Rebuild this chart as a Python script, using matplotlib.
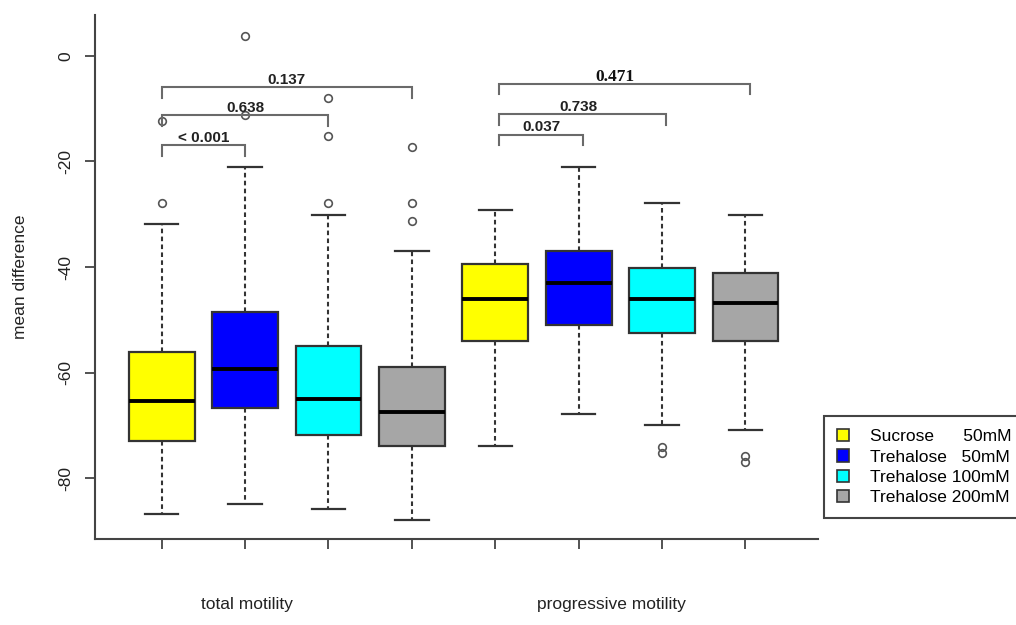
import matplotlib
matplotlib.use("Agg")
import matplotlib.pyplot as plt
from matplotlib.patches import Patch

plt.rcParams['font.family'] = ['Liberation Sans', 'DejaVu Sans']

# Box statistics (mean difference)
groups = ['total motility', 'progressive motility']
treatments = ['Sucrose      50mM', 'Trehalose   50mM', 'Trehalose 100mM', 'Trehalose 200mM']
medians = [-65.4, -59.3, -65.0, -67.5, -46.1, -43.0, -46.1, -46.9]
q1 = [-72.9, -66.8, -71.8, -73.9, -54.0, -51.0, -52.6, -54.0]
q3 = [-56.1, -48.6, -55.0, -59.0, -39.4, -36.9, -40.1, -41.2]
whislo = [-86.9, -85.0, -85.9, -87.9, -73.9, -67.9, -70.0, -70.9]
whishi = [-31.8, -21.1, -30.1, -36.9, -29.1, -21.1, -27.9, -30.1]
fliers = [[-27.9, -12.3], [3.85, -11.2], [-8.0, -15.1, -27.9], [-17.2, -27.9, -31.2],
          [], [], [-74.1, -75.2], [-75.9, -77.0]]

# pairwise comparisons: (box a, box b, bar height, p-value label)
comparisons = [(1, 2, -16.9, '< 0.001'), (1, 3, -11.2, '0.638'), (1, 4, -5.9, '0.137'),
               (5, 6, -14.9, '0.037'), (5, 7, -11.0, '0.738'), (5, 8, -5.3, '0.471')]

colors = ['#FFFF00', '#0000FF', '#00FFFF', '#A6A6A6']
positions = list(range(1, 9))

fig = plt.figure(figsize=(10.16, 6.25), dpi=100)
ax = fig.add_axes([95 / 1016, 1 - 539 / 625, (818 - 95) / 1016, (539 - 15) / 625])

stats = []
for i in range(8):
    stats.append(dict(med=medians[i], q1=q1[i], q3=q3[i], whislo=whislo[i],
                      whishi=whishi[i], fliers=fliers[i]))

bp = ax.bxp(stats, positions=positions, widths=0.79, patch_artist=True,
            boxprops=dict(edgecolor='#333333', linewidth=1.6),
            medianprops=dict(color='black', linewidth=2.8),
            whiskerprops=dict(color='#333333', linewidth=1.5, linestyle=(0, (2.2, 1.6))),
            capprops=dict(color='#333333', linewidth=1.6),
            capwidths=0.4,
            flierprops=dict(marker='o', markersize=5.5, markerfacecolor='none',
                            markeredgecolor='#555555', markeredgewidth=1.2))
for i, box in enumerate(bp['boxes']):
    box.set_facecolor(colors[i % 4])

# significance brackets
for a, b, h, lab in comparisons:
    shift = 0.05 if a > 4 else 0.0
    xa, xb = a + shift, b + shift
    ax.plot([xa, xa, xb, xb], [h - 2.0, h, h, h - 2.0], color='#6a6a6a', lw=1.5,
            solid_joinstyle='miter')
    if b - a == 2:
        xt = a + 1
    elif lab == '0.471':
        xt = (xa + xb) / 2 - 0.12
    else:
        xt = (xa + xb) / 2
    if lab == '0.471':
        ax.text(xt, h + 0.6, lab, ha='center', va='baseline', fontsize=12.5,
                fontweight='bold', family='Liberation Serif', color='#111111')
    else:
        ax.text(xt, h + 0.6, lab, ha='center', va='baseline', fontsize=11,
                fontweight='bold', color='#222222')

ax.set_xlim(0.2, 8.87)
ax.set_ylim(-91.56, 7.77)
ax.spines['top'].set_visible(False)
ax.spines['right'].set_visible(False)
for s in ['left', 'bottom']:
    ax.spines[s].set_color('#444444')
    ax.spines[s].set_linewidth(1.5)

ax.set_xticks(positions)
ax.set_xticklabels([])
ax.set_yticks([0, -20, -40, -60, -80])
ax.set_yticklabels(['0', '-20', '-40', '-60', '-80'], rotation=90, va='center',
                   fontsize=12.5, color='#222222')
ax.tick_params(axis='both', length=7.5, width=1.3, color='#444444')
ax.tick_params(axis='y', pad=8)

fig.text(21 / 1016, 1 - 277 / 625, 'mean difference', rotation=90, ha='center',
         va='center', fontsize=12.5, color='#222222')
fig.text(247 / 1016, 1 - 609 / 625, groups[0], ha='center', va='baseline',
         fontsize=12.5, color='#222222')
fig.text(611 / 1016, 1 - 609 / 625, groups[1], ha='center', va='baseline',
         fontsize=12.5, color='#222222')

handles = [Patch(facecolor=c, edgecolor='#333333', linewidth=1.2) for c in colors]
leg = fig.legend(handles, treatments, loc='upper left',
                 bbox_to_anchor=(824 / 1016, 1 - 416 / 625), borderaxespad=0,
                 fontsize=12.5, frameon=True, fancybox=False, framealpha=1,
                 edgecolor='#444444', handlelength=0.7, handleheight=0.7,
                 handletextpad=1.2, labelspacing=0.3, borderpad=0.75)
leg.get_frame().set_linewidth(1.5)

fig.savefig('out.png', dpi=100)
